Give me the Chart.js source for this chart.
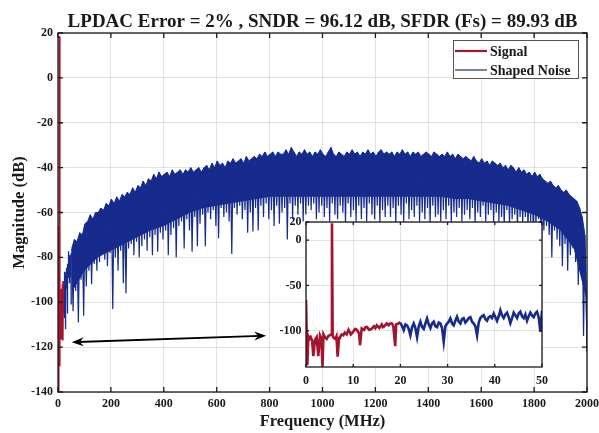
<!DOCTYPE html>
<html>
<head>
<meta charset="utf-8">
<title>LPDAC output spectrum</title>
<script src="https://cdn.jsdelivr.net/npm/chart.js@4.4.1/dist/chart.umd.min.js"></script>
<style>
  html, body { margin: 0; padding: 0; background: #fff; }
  #wrap { position: relative; width: 599px; height: 433px; }
  #main { position: absolute; left: 0; top: 0; }
  #zoom { position: absolute; left: 270px; top: 212px; }
</style>
</head>
<body>
<div id="wrap">
  <canvas id="main" width="599" height="433"></canvas>
  <canvas id="zoom" width="280" height="180"></canvas>
</div>
<script>
const TITLE = 'LPDAC Error = 2% , SNDR = 96.12 dB, SFDR (Fs) = 89.93 dB';

// signal bins 0-20 MHz (MHz, dB)
const sigFreq = [0, 0.28, 0.5, 0.75, 1.0, 1.3, 1.55, 1.9, 2.26, 2.6,
  2.97, 3.25, 3.5, 3.7, 4.0, 4.4, 4.7, 5.0, 5.35, 5.5,
  5.65, 5.9, 6.2, 6.45, 6.7, 7.0, 7.2, 7.55, 7.9, 8.2,
  8.6, 9.0, 9.5, 10.0, 10.4, 10.75, 11.25, 11.45, 11.8, 12.3,
  12.6, 12.9, 13.4, 13.9, 14.4, 14.7, 15.0, 15.55, 16.05, 16.3,
  16.6, 17.1, 17.5, 17.8, 18.2, 18.5, 18.9, 19.1, 19.6, 20.0];
const sigMag = [-66, -138, -106, -109, -107, -111, -128, -110, -107, -128,
  -105, -108, -140, -104, -107, -109, -106, -105, -104, 18.5,
  -106, -108, -109, -106, -128.5, -108, -107, -104, -105, -102,
  -104, -99, -104, -101, -98, -99, -103, -116, -97.4, -99,
  -96, -95.7, -99, -98, -95, -97, -94, -97, -93, -96,
  -95, -92, -94, -92, -92, -95, -117, -93, -92, -90.5];

// shaped noise, fine bins 20-50 MHz
const lowStart = 20;
const lowStep = 0.353;
const lowMag = [-91, -95, -99.3, -93, -94, -98, -105, -96, -92, -97,
  -107, -95, -90, -96, -98, -92, -86.4, -93, -97, -92,
  -90, -95, -96, -91, -92, -97, -112, -95, -92, -90,
  -86.4, -92, -94, -89, -84.6, -90, -92, -87, -86, -91,
  -89, -86, -85, -90, -92, -95, -105, -91, -86, -84,
  -82.8, -87, -89, -85, -84, -86, -81, -85, -89, -84,
  -77.3, -83, -86, -82, -80, -85, -91.5, -86, -80, -83,
  -86, -81, -79, -84, -86, -82, -89, -84, -80, -83,
  -85, -81, -79, -85, -101, -78];

// shaped noise 50-2000 MHz: upper and lower excursion per 10 MHz bin
const bandStart = 52;
const bandStep = 10;
const noiseTop = [
  -76, -72, -73, -69, -70, -65, -64, -61, -63, -60,
  -60, -58, -59, -56, -57, -54, -56, -53, -55, -52,
  -53, -51, -52, -49, -51, -48, -49, -46, -48, -45,
  -46, -43, -45, -42, -44, -43, -42, -44, -41, -43,
  -42, -41, -43, -41, -42, -40, -42, -41, -40, -42,
  -40, -39, -41, -38, -40, -37, -39, -38, -40, -37,
  -38, -36, -38, -37, -36, -38, -35, -37, -36, -35,
  -36, -34, -35, -33, -35, -34, -33, -35, -33, -34,
  -34, -32, -34, -31, -33, -35, -33, -34, -32, -34,
  -33, -35, -33, -34, -32, -34, -35, -33, -31, -34,
  -35, -33, -34, -35, -33, -34, -32, -34, -33, -35,
  -33, -34, -32, -34, -33, -35, -33, -32, -34, -33,
  -34, -33, -35, -33, -34, -32, -34, -33, -35, -33,
  -34, -33, -35, -34, -33, -34, -35, -33, -34, -35,
  -34, -35, -33, -35, -34, -36, -34, -35, -36, -35,
  -36, -37, -35, -37, -38, -36, -38, -37, -39, -37,
  -38, -39, -38, -40, -39, -41, -39, -40, -42, -40,
  -42, -41, -43, -42, -44, -42, -44, -43, -45, -46,
  -47, -46, -48, -49, -48, -50, -51, -50, -52, -53,
  -54, -55, -58, -62, -70];
const noiseBot = [
  -104, -95, -109, -90, -106, -93, -86, -92, -83, -86,
  -82, -79, -81, -84, -78, -103, -80, -86, -77, -91.5,
  -96, -76, -74, -79, -73, -80, -75, -72, -77, -71,
  -79, -70, -77.5, -69, -72, -68, -79, -70, -67, -80,
  -66, -64, -76, -63, -68, -77.5, -62, -75, -65, -61,
  -75, -60, -63, -59, -66, -71.5, -58, -62, -60, -64,
  -78.5, -58, -61, -57, -63, -59, -69, -60, -68.5, -58,
  -68, -57, -62, -56, -63, -59, -66, -57, -65, -60,
  -58, -72, -56, -63, -57, -61, -56, -64, -61, -57,
  -59, -56, -63, -60, -57, -62, -58, -64, -56, -61,
  -63, -57, -60, -65, -56, -62, -59, -64, -57, -63,
  -58, -64, -56, -61, -63, -57, -65, -59, -62, -57,
  -62, -58, -65, -57, -61, -64, -56, -63, -59, -62,
  -57, -64, -60, -63, -58, -65, -57, -62, -61, -64,
  -59, -63, -57, -65, -60, -62, -58, -64, -61, -59,
  -63, -58, -65, -60, -62, -57, -64, -61, -59, -65,
  -60, -64, -62, -66, -59, -65, -63, -61, -67, -62,
  -65, -62, -67, -64, -69, -66, -63, -78, -68, -66,
  -70, -80, -68, -72, -75, -84, -74, -86, -79, -76,
  -82, -92.3, -88, -115, -96];
const bandEdge = [2000, -122];

// lower edge of the solid part of the noise band, every 50 MHz from 50 MHz
const coreStart = 50;
const coreStep = 50;
const noiseCore = [-96, -86, -80, -77, -74, -71, -68, -66, -63, -60,
  -58, -57, -56, -55, -54, -53, -53, -53, -53, -53,
  -53, -53, -53, -53, -53, -53, -53, -53, -53, -54,
  -54, -55, -56, -57, -59, -61, -64, -68, -76, -100];

const freqTicksZoom = [0, 10, 20, 30, 40, 50];
const magTicksZoom = [-100, -50, 0, 20];

// double arrow pointing from the zoomed band to the inset (MHz, dB)
const arrowFrom = [52, -117.8];
const arrowTo = [787, -114.9];

const serif = '"Liberation Serif", "Times New Roman", serif';
const ink = '#1a1a1a';
const gridColor = 'rgba(0, 0, 0, 0.11)';
const red = 'rgb(163, 20, 47)';
const blue = 'rgb(22, 43, 140)';

const signalPts = sigFreq.map((f, i) => ({ x: f, y: sigMag[i] }));
const lowPts = lowMag.map((m, i) => ({ x: lowStart + i * lowStep, y: m }));
const bandPts = [];
noiseTop.forEach((t, i) => {
  const f = bandStart + i * bandStep;
  bandPts.push({ x: f, y: t });
  bandPts.push({ x: f + bandStep / 2, y: noiseBot[i] });
});
bandPts.push({ x: bandEdge[0], y: bandEdge[1] });
// upper excursions alone, filled down to the solid core edge
const topPts = noiseTop.map((t, i) => ({ x: bandStart + i * bandStep, y: t }));
topPts.push({ x: bandEdge[0], y: bandEdge[1] });
const corePts = noiseCore.map((m, i) => ({ x: coreStart + i * coreStep, y: m }));

// box round the plot area plus inward tick marks on all four sides
const framePlugin = {
  id: 'frame',
  afterDatasetsDraw(chart, args, opts) {
    const { ctx, chartArea: a, scales } = chart;
    const len = opts.tick;
    ctx.save();
    ctx.strokeStyle = ink;
    ctx.lineWidth = opts.width;
    ctx.beginPath();
    scales.x.ticks.forEach(t => {
      const px = scales.x.getPixelForValue(t.value);
      ctx.moveTo(px, a.bottom); ctx.lineTo(px, a.bottom - len);
      ctx.moveTo(px, a.top); ctx.lineTo(px, a.top + len);
    });
    scales.y.ticks.forEach(t => {
      const py = scales.y.getPixelForValue(t.value);
      ctx.moveTo(a.left, py); ctx.lineTo(a.left + len, py);
      ctx.moveTo(a.right, py); ctx.lineTo(a.right - len, py);
    });
    ctx.stroke();
    ctx.strokeRect(a.left, a.top, a.right - a.left, a.bottom - a.top);
    ctx.restore();
  }
};

const arrowPlugin = {
  id: 'arrow',
  afterDatasetsDraw(chart) {
    const { ctx, scales: { x, y } } = chart;
    const x1 = x.getPixelForValue(arrowFrom[0]), y1 = y.getPixelForValue(arrowFrom[1]);
    const x2 = x.getPixelForValue(arrowTo[0]), y2 = y.getPixelForValue(arrowTo[1]);
    const ang = Math.atan2(y2 - y1, x2 - x1);
    const head = (tx, ty, dir) => {
      const c = Math.cos(dir), s = Math.sin(dir);
      const L = 12, W = 4.5, N = 8;
      ctx.beginPath();
      ctx.moveTo(tx, ty);
      ctx.lineTo(tx - c * L - s * W, ty - s * L + c * W);
      ctx.lineTo(tx - c * N, ty - s * N);
      ctx.lineTo(tx - c * L + s * W, ty - s * L - c * W);
      ctx.closePath();
      ctx.fill();
    };
    ctx.save();
    ctx.strokeStyle = '#000';
    ctx.fillStyle = '#000';
    ctx.lineWidth = 1.8;
    ctx.beginPath();
    ctx.moveTo(x1 + Math.cos(ang) * 6, y1 + Math.sin(ang) * 6);
    ctx.lineTo(x2 - Math.cos(ang) * 6, y2 - Math.sin(ang) * 6);
    ctx.stroke();
    head(x2, y2, ang);
    head(x1, y1, ang + Math.PI);
    ctx.restore();
  }
};

const legendPlugin = {
  id: 'boxLegend',
  afterDraw(chart) {
    const { ctx, chartArea: a } = chart;
    const w = 125, h = 38;
    const left = a.right - 9 - w, top = a.top + 7;
    ctx.save();
    ctx.fillStyle = '#fff';
    ctx.fillRect(left, top, w, h);
    ctx.strokeStyle = '#555';
    ctx.lineWidth = 1;
    ctx.strokeRect(left + 0.5, top + 0.5, w, h);
    ctx.font = 'bold 14px ' + serif;
    ctx.textBaseline = 'middle';
    chart.data.datasets.filter(ds => ds.legendWidth).forEach((ds, i) => {
      const yy = top + 11 + i * 19;
      ctx.strokeStyle = ds.borderColor;
      ctx.lineWidth = ds.legendWidth;
      ctx.beginPath();
      ctx.moveTo(left + 2, yy);
      ctx.lineTo(left + 34, yy);
      ctx.stroke();
      ctx.fillStyle = ink;
      ctx.fillText(ds.label, left + 37, yy + 1);
    });
    ctx.restore();
  }
};

const titlePlugin = {
  id: 'plotTitle',
  afterDraw(chart) {
    const { ctx, chartArea: a } = chart;
    ctx.save();
    ctx.font = 'bold 19px ' + serif;
    ctx.fillStyle = ink;
    ctx.textAlign = 'center';
    ctx.textBaseline = 'alphabetic';
    ctx.fillText(TITLE, (a.left + a.right) / 2, 26.5);
    ctx.restore();
  }
};

const whiteArea = {
  id: 'whiteArea',
  beforeDraw(chart) {
    const { ctx, chartArea: a } = chart;
    ctx.save();
    ctx.fillStyle = '#fff';
    ctx.fillRect(a.left, a.top, a.right - a.left, a.bottom - a.top);
    ctx.restore();
  }
};

const tickFont = { family: serif, size: 12, weight: 'bold' };
const titleFont = { family: serif, size: 16.5, weight: 'bold', lineHeight: 1 };
const plain = v => String(v);
// keep the plot box fixed: no extra room for the end tick labels
const fixX = h => s => { s.height = h; s.paddingLeft = 0; s.paddingRight = 0; };
const fixY = w => s => { s.width = w; s.paddingTop = 0; s.paddingBottom = 0; };

new Chart(document.getElementById('main'), {
  type: 'line',
  data: {
    datasets: [
      { label: 'Signal', data: signalPts, borderColor: red, borderWidth: 2, legendWidth: 2.2 },
      { label: 'Shaped Noise', data: lowPts, borderColor: blue, borderWidth: 1.3, legendWidth: 1.2 },
      { label: 'band', data: bandPts, borderColor: blue, borderWidth: 1.2 },
      { label: 'band top', data: topPts, borderColor: blue, borderWidth: 1, backgroundColor: blue, fill: '+1' },
      { label: 'band core', data: corePts, borderWidth: 0, borderColor: 'rgba(0,0,0,0)' }
    ]
  },
  options: {
    responsive: false,
    devicePixelRatio: 1,
    animation: false,
    events: [],
    layout: { padding: { left: 0, right: 12, top: 33, bottom: 0 } },
    elements: { point: { radius: 0 }, line: { tension: 0 } },
    plugins: {
      legend: { display: false },
      tooltip: { enabled: false },
      filler: { propagate: false },
      frame: { tick: 5, width: 1.3 }
    },
    scales: {
      x: {
        type: 'linear', min: 0, max: 2000,
        afterFit: fixX(41),
        ticks: { stepSize: 200, font: tickFont, color: ink, padding: 5, maxRotation: 0, autoSkip: false, callback: plain },
        grid: { color: gridColor, drawTicks: false },
        border: { display: false },
        title: { display: true, text: 'Frequency (MHz)', font: titleFont, color: ink, padding: { top: 0, bottom: 3 } }
      },
      y: {
        min: -140, max: 20,
        afterFit: fixY(58),
        ticks: { stepSize: 20, font: tickFont, color: ink, padding: 5, callback: plain },
        grid: { color: gridColor, drawTicks: false },
        border: { display: false },
        title: { display: true, text: 'Magnitude (dB)', font: titleFont, color: ink, padding: { top: 11, bottom: 0 } }
      }
    }
  },
  plugins: [arrowPlugin, framePlugin, legendPlugin, titlePlugin]
});

// zoom on the first 50 MHz
new Chart(document.getElementById('zoom'), {
  type: 'line',
  data: {
    datasets: [
      { label: 'Signal', data: signalPts, borderColor: red, borderWidth: 2.6 },
      { label: 'Shaped Noise', data: lowPts, borderColor: blue, borderWidth: 2.6 }
    ]
  },
  options: {
    responsive: false,
    devicePixelRatio: 1,
    animation: false,
    events: [],
    layout: { padding: { left: 0, right: 8, top: 10, bottom: 0 } },
    elements: { point: { radius: 0 }, line: { tension: 0 } },
    plugins: {
      legend: { display: false },
      tooltip: { enabled: false },
      frame: { tick: 3, width: 1.3 }
    },
    scales: {
      x: {
        type: 'linear', min: 0, max: 50,
        afterFit: fixX(25),
        afterBuildTicks: s => { s.ticks = freqTicksZoom.map(v => ({ value: v })); },
        ticks: { font: tickFont, color: ink, padding: 7, maxRotation: 0, autoSkip: false, callback: plain },
        grid: { color: gridColor, drawTicks: false },
        border: { display: false }
      },
      y: {
        min: -140, max: 20,
        afterFit: fixY(36),
        afterBuildTicks: s => { s.ticks = magTicksZoom.map(v => ({ value: v })); },
        ticks: { font: tickFont, color: ink, padding: 4.5, autoSkip: false, callback: plain },
        grid: { color: gridColor, drawTicks: false },
        border: { display: false }
      }
    }
  },
  plugins: [whiteArea, framePlugin]
});
</script>
</body>
</html>
